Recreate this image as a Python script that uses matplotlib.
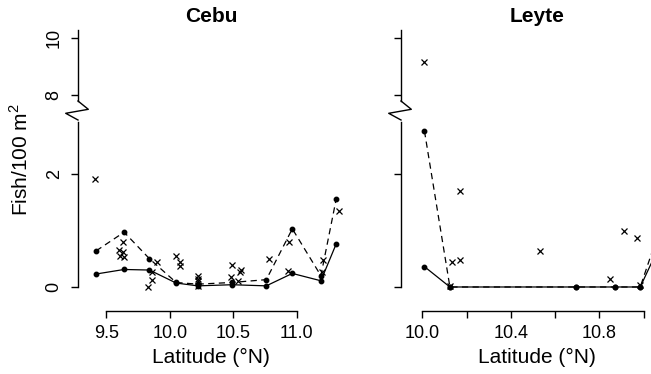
import numpy as np
import matplotlib
matplotlib.use("Agg")
from matplotlib import pyplot as plt

plt.rcParams['font.family'] = ['Liberation Sans', 'DejaVu Sans']
plt.rcParams['mathtext.fontset'] = 'custom'
plt.rcParams['mathtext.rm'] = 'Liberation Sans'

# Cebu: site means (two series) and individual transects (crosses)
cebu_lat = [9.42, 9.64, 9.84, 10.05, 10.22, 10.49, 10.76, 10.965, 11.19, 11.31]
cebu_solid = [0.23, 0.31, 0.30, 0.07, 0.02, 0.04, 0.02, 0.24, 0.11, 0.76]
cebu_dash = [0.64, 0.97, 0.50, 0.08, 0.05, 0.08, 0.13, 1.03, 0.20, 1.55]
cebu_x_lat = [9.41, 9.63, 9.60, 9.63, 9.61, 9.64, 9.90, 9.86, 9.86, 9.83,
              10.05, 10.08, 10.08, 10.22, 10.22, 10.22, 10.22, 10.49, 10.48,
              10.56, 10.55, 10.54, 10.78, 10.94, 10.93, 11.21, 11.20, 11.33]
cebu_x_val = [1.91, 0.80, 0.65, 0.62, 0.54, 0.53, 0.45, 0.26, 0.12, 0.00,
              0.54, 0.45, 0.37, 0.19, 0.15, 0.10, 0.02, 0.39, 0.17,
              0.30, 0.26, 0.10, 0.49, 0.79, 0.29, 0.48, 0.27, 1.35]

# Leyte
leyte_lat = [10.01, 10.125, 10.695, 10.87, 10.985, 11.06]
leyte_solid = [0.36, 0.0, 0.0, 0.0, 0.0, 0.63]
leyte_dash = [2.76, 0.0, 0.0, 0.0, 0.0, 0.87]
leyte_x_lat = [10.01, 10.125, 10.135, 10.17, 10.17, 10.53, 10.85, 10.91, 10.97, 10.985]
leyte_x_val = [9.17, 0.02, 0.44, 0.48, 1.70, 0.64, 0.15, 0.99, 0.87, 0.04]

# broken y axis: 0..2.92 normal, 7.78.. compressed by half
brk = [-5, 2.92, 7.78, 20]
brk_t = [-5, 2.92, 3.29, 9.40]
fwd = lambda y: np.interp(y, brk, brk_t)
inv = lambda t: np.interp(t, brk_t, brk)

W, H = 651, 374
fig = plt.figure(figsize=(W / 100, H / 100), dpi=100)

def px_ax(left, right, top, bottom):
    return fig.add_axes([left / W, 1 - bottom / H, (right - left) / W, (bottom - top) / H])

def zigzag(x0):
    xs = np.array([x0, x0 + 10.3, x0 - 12.3, x0])
    ys = np.array([101, 109.3, 113.3, 120])
    fig.add_artist(plt.Line2D(xs / W, 1 - ys / H, color='black', lw=1.0))

panels = [
    ('Cebu', 78, 344, (9.277, 11.372), cebu_lat, cebu_solid, cebu_dash, cebu_x_lat, cebu_x_val,
     [9.5, 10.0, 10.5, 11.0], ['9.5', '10.0', '10.5', '11.0'], True),
    ('Leyte', 401, 673, (9.904, 11.133), leyte_lat, leyte_solid, leyte_dash, leyte_x_lat, leyte_x_val,
     [10.0, 10.2, 10.4, 10.6, 10.8, 11.0], ['10.0', '', '10.4', '', '10.8', ''], False),
]

for name, left, right, xl, lat, sol, das, xlat, xval, xt, xtl, ylab in panels:
    ax = px_ax(left, right, 30, 311)
    ax.set_yscale('function', functions=(fwd, inv))
    ax.set_ylim(-0.425, 10.298)
    ax.set_xlim(*xl)

    ax.plot(lat, sol, '-', color='black', lw=0.9, marker='o', ms=3.2, clip_on=False)
    ax.plot(lat, das, color='black', lw=0.9, ls=(0, (5, 3.5)), marker='o', ms=3.2, clip_on=False)
    ax.plot(xlat, xval, 'x', color='black', ms=5, mew=0.9, clip_on=False)

    for s in ['top', 'right', 'left']:
        ax.spines[s].set_visible(False)
    ax.spines['bottom'].set_bounds(xt[0], xt[-1])
    ax.spines['bottom'].set_linewidth(1.0)

    ax.set_xticks(xt)
    ax.set_xticklabels(xtl)
    ax.tick_params(axis='x', direction='out', length=5, width=1.0, pad=5, labelsize=13)

    ax.set_yticks([0, 2, 8, 10])
    ax.yaxis.set_minor_locator(matplotlib.ticker.NullLocator())
    if ylab:
        ax.set_yticklabels(['0', '2', '8', '10'], rotation=90, va='center')
    else:
        ax.set_yticklabels([])
    ax.tick_params(axis='y', direction='out', length=5, width=1.0, pad=6, labelsize=13)

    yt = ax.get_yaxis_transform()
    ax.plot([0, 0], [0, 2.92], color='black', lw=1.0, transform=yt, clip_on=False)
    ax.plot([0, 0], [7.80, 10.298], color='black', lw=1.0, transform=yt, clip_on=False)
    zigzag(left)

    cx = (left + right) / 2
    fig.text(cx / W, 1 - 17 / H, name, ha='center', va='center', fontsize=15, fontweight='bold')
    fig.text(cx / W, 1 - 357 / H, 'Latitude (°N)', ha='center', va='center', fontsize=15)

fig.text(20 / W, 1 - 160 / H, 'Fish/100 m$^2$', rotation=90, ha='center', va='center', fontsize=15)

fig.savefig('out.png', dpi=100)
